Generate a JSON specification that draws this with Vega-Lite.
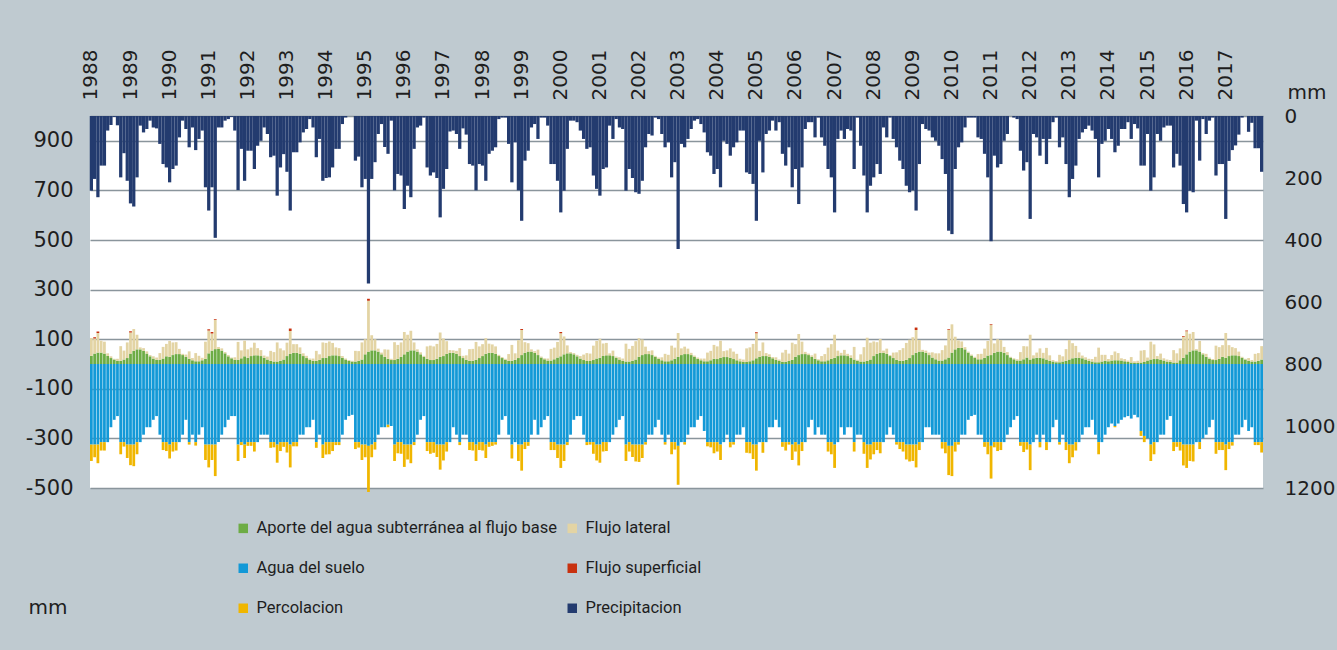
{
"$schema":"https://vega.github.io/schema/vega-lite/v6.json",
"width":1173,"height":372,
"autosize":{"type":"none"},
"padding":{"left":90,"top":116,"right":74,"bottom":162},
"background":"#bfcad0",
"config":{"view":{"fill":"white","stroke":null},"axis":{"labelFont":"DejaVu Sans","labelColor":"#1e1e1e","titleFont":"DejaVu Sans","titleColor":"#1e1e1e","titleFontWeight":"normal"}},
"data":{"values":[
{"m":"1988-01","prec":241,"a":33,"l":72,"s":0,"agua":-325,"perc":-66},
{"m":"1988-02","prec":203,"a":42,"l":61,"s":5,"agua":-325,"perc":-51},
{"m":"1988-03","prec":262,"a":46,"l":79,"s":6,"agua":-325,"perc":-75},
{"m":"1988-04","prec":160,"a":46,"l":48,"s":0,"agua":-315,"perc":-34},
{"m":"1988-05","prec":160,"a":42,"l":48,"s":0,"agua":-315,"perc":-34},
{"m":"1988-06","prec":47,"a":33,"l":10,"s":0,"agua":-315,"perc":0},
{"m":"1988-07","prec":29,"a":24,"l":7,"s":0,"agua":-255,"perc":0},
{"m":"1988-08","prec":3,"a":18,"l":3,"s":0,"agua":-225,"perc":0},
{"m":"1988-09","prec":30,"a":13,"l":8,"s":0,"agua":-210,"perc":0},
{"m":"1988-10","prec":198,"a":13,"l":59,"s":0,"agua":-315,"perc":-49},
{"m":"1988-11","prec":120,"a":18,"l":36,"s":0,"agua":-315,"perc":-18},
{"m":"1988-12","prec":209,"a":24,"l":63,"s":0,"agua":-325,"perc":-54},
{"m":"1989-01","prec":282,"a":42,"l":85,"s":5,"agua":-325,"perc":-83},
{"m":"1989-02","prec":292,"a":53,"l":88,"s":0,"agua":-325,"perc":-87},
{"m":"1989-03","prec":198,"a":59,"l":59,"s":0,"agua":-315,"perc":-49},
{"m":"1989-04","prec":31,"a":59,"l":8,"s":0,"agua":-315,"perc":0},
{"m":"1989-05","prec":53,"a":53,"l":11,"s":0,"agua":-285,"perc":0},
{"m":"1989-06","prec":42,"a":42,"l":9,"s":0,"agua":-255,"perc":0},
{"m":"1989-07","prec":15,"a":31,"l":5,"s":0,"agua":-255,"perc":0},
{"m":"1989-08","prec":37,"a":22,"l":9,"s":0,"agua":-225,"perc":0},
{"m":"1989-09","prec":40,"a":17,"l":9,"s":0,"agua":-210,"perc":0},
{"m":"1989-10","prec":90,"a":17,"l":27,"s":0,"agua":-285,"perc":0},
{"m":"1989-11","prec":155,"a":22,"l":47,"s":0,"agua":-315,"perc":-32},
{"m":"1989-12","prec":166,"a":31,"l":50,"s":0,"agua":-315,"perc":-36},
{"m":"1990-01","prec":214,"a":29,"l":64,"s":0,"agua":-325,"perc":-56},
{"m":"1990-02","prec":171,"a":36,"l":51,"s":0,"agua":-315,"perc":-38},
{"m":"1990-03","prec":160,"a":40,"l":48,"s":0,"agua":-315,"perc":-34},
{"m":"1990-04","prec":69,"a":40,"l":21,"s":0,"agua":-315,"perc":0},
{"m":"1990-05","prec":15,"a":36,"l":5,"s":0,"agua":-285,"perc":0},
{"m":"1990-06","prec":42,"a":29,"l":9,"s":0,"agua":-225,"perc":0},
{"m":"1990-07","prec":101,"a":21,"l":30,"s":0,"agua":-315,"perc":-10},
{"m":"1990-08","prec":37,"a":15,"l":9,"s":0,"agua":-285,"perc":0},
{"m":"1990-09","prec":110,"a":11,"l":33,"s":0,"agua":-315,"perc":-14},
{"m":"1990-10","prec":74,"a":11,"l":22,"s":0,"agua":-285,"perc":0},
{"m":"1990-11","prec":47,"a":15,"l":10,"s":0,"agua":-255,"perc":0},
{"m":"1990-12","prec":230,"a":21,"l":69,"s":0,"agua":-325,"perc":-62},
{"m":"1991-01","prec":305,"a":43,"l":92,"s":5,"agua":-325,"perc":-92},
{"m":"1991-02","prec":230,"a":54,"l":69,"s":6,"agua":-325,"perc":-62},
{"m":"1991-03","prec":393,"a":60,"l":118,"s":3,"agua":-325,"perc":-127},
{"m":"1991-04","prec":37,"a":60,"l":9,"s":0,"agua":-315,"perc":0},
{"m":"1991-05","prec":37,"a":54,"l":9,"s":0,"agua":-285,"perc":0},
{"m":"1991-06","prec":15,"a":43,"l":5,"s":0,"agua":-255,"perc":0},
{"m":"1991-07","prec":10,"a":31,"l":5,"s":0,"agua":-225,"perc":0},
{"m":"1991-08","prec":3,"a":23,"l":3,"s":0,"agua":-210,"perc":0},
{"m":"1991-09","prec":47,"a":17,"l":10,"s":0,"agua":-210,"perc":0},
{"m":"1991-10","prec":239,"a":17,"l":72,"s":0,"agua":-325,"perc":-66},
{"m":"1991-11","prec":106,"a":23,"l":32,"s":0,"agua":-315,"perc":-12},
{"m":"1991-12","prec":209,"a":31,"l":63,"s":0,"agua":-325,"perc":-54},
{"m":"1992-01","prec":112,"a":25,"l":34,"s":0,"agua":-315,"perc":-15},
{"m":"1992-02","prec":112,"a":32,"l":34,"s":0,"agua":-315,"perc":-15},
{"m":"1992-03","prec":171,"a":35,"l":51,"s":0,"agua":-315,"perc":-38},
{"m":"1992-04","prec":96,"a":35,"l":29,"s":0,"agua":-315,"perc":0},
{"m":"1992-05","prec":80,"a":32,"l":24,"s":0,"agua":-285,"perc":0},
{"m":"1992-06","prec":37,"a":25,"l":9,"s":0,"agua":-285,"perc":0},
{"m":"1992-07","prec":58,"a":18,"l":12,"s":0,"agua":-285,"perc":0},
{"m":"1992-08","prec":133,"a":13,"l":40,"s":0,"agua":-315,"perc":-23},
{"m":"1992-09","prec":128,"a":10,"l":38,"s":0,"agua":-315,"perc":-21},
{"m":"1992-10","prec":257,"a":10,"l":77,"s":0,"agua":-325,"perc":-73},
{"m":"1992-11","prec":166,"a":13,"l":50,"s":0,"agua":-315,"perc":-36},
{"m":"1992-12","prec":123,"a":18,"l":37,"s":0,"agua":-315,"perc":-19},
{"m":"1993-01","prec":180,"a":32,"l":54,"s":0,"agua":-315,"perc":-42},
{"m":"1993-02","prec":305,"a":41,"l":92,"s":10,"agua":-325,"perc":-92},
{"m":"1993-03","prec":117,"a":45,"l":35,"s":0,"agua":-315,"perc":-17},
{"m":"1993-04","prec":117,"a":45,"l":35,"s":0,"agua":-315,"perc":-17},
{"m":"1993-05","prec":85,"a":41,"l":26,"s":0,"agua":-285,"perc":0},
{"m":"1993-06","prec":53,"a":32,"l":11,"s":0,"agua":-285,"perc":0},
{"m":"1993-07","prec":42,"a":24,"l":9,"s":0,"agua":-255,"perc":0},
{"m":"1993-08","prec":10,"a":17,"l":5,"s":0,"agua":-255,"perc":0},
{"m":"1993-09","prec":37,"a":13,"l":9,"s":0,"agua":-225,"perc":0},
{"m":"1993-10","prec":133,"a":13,"l":40,"s":0,"agua":-315,"perc":-23},
{"m":"1993-11","prec":74,"a":17,"l":22,"s":0,"agua":-285,"perc":0},
{"m":"1993-12","prec":209,"a":24,"l":63,"s":0,"agua":-325,"perc":-54},
{"m":"1994-01","prec":200,"a":25,"l":60,"s":0,"agua":-315,"perc":-50},
{"m":"1994-02","prec":198,"a":32,"l":59,"s":0,"agua":-315,"perc":-49},
{"m":"1994-03","prec":166,"a":35,"l":50,"s":0,"agua":-315,"perc":-36},
{"m":"1994-04","prec":106,"a":35,"l":32,"s":0,"agua":-315,"perc":-12},
{"m":"1994-05","prec":106,"a":32,"l":32,"s":0,"agua":-315,"perc":-12},
{"m":"1994-06","prec":26,"a":25,"l":7,"s":0,"agua":-285,"perc":0},
{"m":"1994-07","prec":5,"a":18,"l":4,"s":0,"agua":-225,"perc":0},
{"m":"1994-08","prec":0,"a":13,"l":3,"s":0,"agua":-210,"perc":0},
{"m":"1994-09","prec":0,"a":10,"l":3,"s":0,"agua":-205,"perc":0},
{"m":"1994-10","prec":144,"a":10,"l":43,"s":0,"agua":-315,"perc":-28},
{"m":"1994-11","prec":131,"a":13,"l":39,"s":0,"agua":-315,"perc":-22},
{"m":"1994-12","prec":230,"a":18,"l":69,"s":0,"agua":-325,"perc":-62},
{"m":"1995-01","prec":203,"a":39,"l":61,"s":0,"agua":-325,"perc":-51},
{"m":"1995-02","prec":540,"a":50,"l":205,"s":8,"agua":-330,"perc":-186},
{"m":"1995-03","prec":203,"a":55,"l":61,"s":0,"agua":-325,"perc":-51},
{"m":"1995-04","prec":149,"a":55,"l":45,"s":0,"agua":-315,"perc":-30},
{"m":"1995-05","prec":58,"a":50,"l":12,"s":0,"agua":-285,"perc":0},
{"m":"1995-06","prec":26,"a":39,"l":7,"s":0,"agua":-255,"perc":0},
{"m":"1995-07","prec":100,"a":29,"l":30,"s":0,"agua":-255,"perc":0},
{"m":"1995-08","prec":122,"a":21,"l":37,"s":0,"agua":-245,"perc":-10},
{"m":"1995-09","prec":15,"a":16,"l":5,"s":0,"agua":-250,"perc":0},
{"m":"1995-10","prec":240,"a":16,"l":72,"s":0,"agua":-325,"perc":-66},
{"m":"1995-11","prec":187,"a":21,"l":56,"s":0,"agua":-315,"perc":-45},
{"m":"1995-12","prec":192,"a":29,"l":58,"s":0,"agua":-315,"perc":-47},
{"m":"1996-01","prec":300,"a":39,"l":90,"s":0,"agua":-325,"perc":-90},
{"m":"1996-02","prec":225,"a":50,"l":68,"s":0,"agua":-325,"perc":-60},
{"m":"1996-03","prec":262,"a":55,"l":79,"s":0,"agua":-325,"perc":-75},
{"m":"1996-04","prec":106,"a":55,"l":32,"s":0,"agua":-315,"perc":-12},
{"m":"1996-05","prec":37,"a":50,"l":9,"s":0,"agua":-285,"perc":0},
{"m":"1996-06","prec":31,"a":39,"l":8,"s":0,"agua":-225,"perc":0},
{"m":"1996-07","prec":5,"a":29,"l":4,"s":0,"agua":-210,"perc":0},
{"m":"1996-08","prec":166,"a":21,"l":50,"s":0,"agua":-315,"perc":-36},
{"m":"1996-09","prec":192,"a":16,"l":58,"s":0,"agua":-315,"perc":-47},
{"m":"1996-10","prec":182,"a":16,"l":55,"s":0,"agua":-315,"perc":-43},
{"m":"1996-11","prec":200,"a":21,"l":60,"s":0,"agua":-325,"perc":-50},
{"m":"1996-12","prec":327,"a":29,"l":98,"s":0,"agua":-325,"perc":-101},
{"m":"1997-01","prec":235,"a":32,"l":71,"s":0,"agua":-325,"perc":-64},
{"m":"1997-02","prec":171,"a":41,"l":51,"s":0,"agua":-315,"perc":-38},
{"m":"1997-03","prec":50,"a":45,"l":11,"s":0,"agua":-315,"perc":0},
{"m":"1997-04","prec":47,"a":45,"l":10,"s":0,"agua":-255,"perc":0},
{"m":"1997-05","prec":58,"a":41,"l":12,"s":0,"agua":-285,"perc":0},
{"m":"1997-06","prec":106,"a":32,"l":32,"s":0,"agua":-315,"perc":-12},
{"m":"1997-07","prec":40,"a":24,"l":9,"s":0,"agua":-285,"perc":0},
{"m":"1997-08","prec":60,"a":17,"l":18,"s":0,"agua":-285,"perc":0},
{"m":"1997-09","prec":155,"a":13,"l":47,"s":0,"agua":-315,"perc":-32},
{"m":"1997-10","prec":160,"a":13,"l":48,"s":0,"agua":-315,"perc":-34},
{"m":"1997-11","prec":240,"a":17,"l":72,"s":0,"agua":-325,"perc":-66},
{"m":"1997-12","prec":155,"a":24,"l":47,"s":0,"agua":-315,"perc":-32},
{"m":"1998-01","prec":160,"a":32,"l":48,"s":0,"agua":-315,"perc":-34},
{"m":"1998-02","prec":209,"a":41,"l":63,"s":0,"agua":-325,"perc":-54},
{"m":"1998-03","prec":122,"a":45,"l":37,"s":0,"agua":-315,"perc":-19},
{"m":"1998-04","prec":112,"a":45,"l":34,"s":0,"agua":-315,"perc":-15},
{"m":"1998-05","prec":101,"a":41,"l":30,"s":0,"agua":-315,"perc":-10},
{"m":"1998-06","prec":10,"a":32,"l":5,"s":0,"agua":-285,"perc":0},
{"m":"1998-07","prec":5,"a":24,"l":4,"s":0,"agua":-225,"perc":0},
{"m":"1998-08","prec":5,"a":17,"l":4,"s":0,"agua":-210,"perc":0},
{"m":"1998-09","prec":90,"a":13,"l":27,"s":0,"agua":-285,"perc":0},
{"m":"1998-10","prec":214,"a":13,"l":64,"s":0,"agua":-325,"perc":-56},
{"m":"1998-11","prec":85,"a":17,"l":26,"s":0,"agua":-315,"perc":0},
{"m":"1998-12","prec":240,"a":24,"l":72,"s":0,"agua":-325,"perc":-66},
{"m":"1999-01","prec":338,"a":36,"l":101,"s":4,"agua":-325,"perc":-105},
{"m":"1999-02","prec":144,"a":45,"l":43,"s":0,"agua":-315,"perc":-28},
{"m":"1999-03","prec":112,"a":50,"l":34,"s":0,"agua":-315,"perc":-15},
{"m":"1999-04","prec":37,"a":50,"l":9,"s":0,"agua":-285,"perc":0},
{"m":"1999-05","prec":26,"a":45,"l":7,"s":0,"agua":-225,"perc":0},
{"m":"1999-06","prec":74,"a":36,"l":22,"s":0,"agua":-285,"perc":0},
{"m":"1999-07","prec":5,"a":26,"l":4,"s":0,"agua":-255,"perc":0},
{"m":"1999-08","prec":5,"a":19,"l":4,"s":0,"agua":-225,"perc":0},
{"m":"1999-09","prec":31,"a":14,"l":8,"s":0,"agua":-210,"perc":0},
{"m":"1999-10","prec":155,"a":14,"l":47,"s":0,"agua":-315,"perc":-32},
{"m":"1999-11","prec":155,"a":19,"l":47,"s":0,"agua":-315,"perc":-32},
{"m":"1999-12","prec":209,"a":26,"l":63,"s":0,"agua":-325,"perc":-54},
{"m":"2000-01","prec":311,"a":31,"l":93,"s":5,"agua":-325,"perc":-94},
{"m":"2000-02","prec":241,"a":39,"l":72,"s":0,"agua":-325,"perc":-66},
{"m":"2000-03","prec":106,"a":43,"l":32,"s":0,"agua":-315,"perc":-12},
{"m":"2000-04","prec":15,"a":43,"l":5,"s":0,"agua":-285,"perc":0},
{"m":"2000-05","prec":15,"a":39,"l":5,"s":0,"agua":-225,"perc":0},
{"m":"2000-06","prec":20,"a":31,"l":6,"s":0,"agua":-210,"perc":0},
{"m":"2000-07","prec":47,"a":22,"l":10,"s":0,"agua":-210,"perc":0},
{"m":"2000-08","prec":74,"a":16,"l":22,"s":0,"agua":-285,"perc":0},
{"m":"2000-09","prec":106,"a":12,"l":32,"s":0,"agua":-315,"perc":-12},
{"m":"2000-10","prec":101,"a":12,"l":30,"s":0,"agua":-315,"perc":-10},
{"m":"2000-11","prec":192,"a":16,"l":58,"s":0,"agua":-315,"perc":-47},
{"m":"2000-12","prec":235,"a":22,"l":71,"s":0,"agua":-325,"perc":-64},
{"m":"2001-01","prec":257,"a":25,"l":77,"s":0,"agua":-325,"perc":-73},
{"m":"2001-02","prec":171,"a":32,"l":51,"s":0,"agua":-315,"perc":-38},
{"m":"2001-03","prec":166,"a":35,"l":50,"s":0,"agua":-315,"perc":-36},
{"m":"2001-04","prec":31,"a":35,"l":8,"s":0,"agua":-315,"perc":0},
{"m":"2001-05","prec":74,"a":32,"l":22,"s":0,"agua":-285,"perc":0},
{"m":"2001-06","prec":10,"a":25,"l":5,"s":0,"agua":-255,"perc":0},
{"m":"2001-07","prec":37,"a":18,"l":9,"s":0,"agua":-225,"perc":0},
{"m":"2001-08","prec":42,"a":13,"l":9,"s":0,"agua":-210,"perc":0},
{"m":"2001-09","prec":241,"a":10,"l":72,"s":0,"agua":-325,"perc":-66},
{"m":"2001-10","prec":171,"a":10,"l":51,"s":0,"agua":-315,"perc":-38},
{"m":"2001-11","prec":200,"a":13,"l":60,"s":0,"agua":-325,"perc":-50},
{"m":"2001-12","prec":246,"a":18,"l":74,"s":0,"agua":-325,"perc":-68},
{"m":"2002-01","prec":251,"a":29,"l":75,"s":0,"agua":-325,"perc":-70},
{"m":"2002-02","prec":209,"a":36,"l":63,"s":0,"agua":-325,"perc":-54},
{"m":"2002-03","prec":101,"a":40,"l":30,"s":0,"agua":-315,"perc":-10},
{"m":"2002-04","prec":58,"a":40,"l":12,"s":0,"agua":-285,"perc":0},
{"m":"2002-05","prec":63,"a":36,"l":19,"s":0,"agua":-285,"perc":0},
{"m":"2002-06","prec":5,"a":29,"l":4,"s":0,"agua":-255,"perc":0},
{"m":"2002-07","prec":10,"a":21,"l":5,"s":0,"agua":-225,"perc":0},
{"m":"2002-08","prec":58,"a":15,"l":12,"s":0,"agua":-285,"perc":0},
{"m":"2002-09","prec":101,"a":11,"l":30,"s":0,"agua":-315,"perc":-10},
{"m":"2002-10","prec":85,"a":11,"l":26,"s":0,"agua":-285,"perc":0},
{"m":"2002-11","prec":198,"a":15,"l":59,"s":0,"agua":-315,"perc":-49},
{"m":"2002-12","prec":149,"a":21,"l":45,"s":0,"agua":-315,"perc":-30},
{"m":"2003-01","prec":429,"a":29,"l":96,"s":0,"agua":-330,"perc":-157},
{"m":"2003-02","prec":90,"a":36,"l":27,"s":0,"agua":-315,"perc":0},
{"m":"2003-03","prec":101,"a":40,"l":30,"s":0,"agua":-315,"perc":-10},
{"m":"2003-04","prec":74,"a":40,"l":22,"s":0,"agua":-285,"perc":0},
{"m":"2003-05","prec":42,"a":36,"l":9,"s":0,"agua":-255,"perc":0},
{"m":"2003-06","prec":15,"a":29,"l":5,"s":0,"agua":-255,"perc":0},
{"m":"2003-07","prec":10,"a":21,"l":5,"s":0,"agua":-225,"perc":0},
{"m":"2003-08","prec":26,"a":15,"l":7,"s":0,"agua":-210,"perc":0},
{"m":"2003-09","prec":53,"a":11,"l":11,"s":0,"agua":-270,"perc":0},
{"m":"2003-10","prec":117,"a":11,"l":35,"s":0,"agua":-315,"perc":-17},
{"m":"2003-11","prec":128,"a":15,"l":38,"s":0,"agua":-315,"perc":-21},
{"m":"2003-12","prec":187,"a":21,"l":56,"s":0,"agua":-315,"perc":-45},
{"m":"2004-01","prec":171,"a":20,"l":51,"s":0,"agua":-315,"perc":-38},
{"m":"2004-02","prec":230,"a":25,"l":69,"s":0,"agua":-325,"perc":-62},
{"m":"2004-03","prec":80,"a":28,"l":24,"s":0,"agua":-315,"perc":0},
{"m":"2004-04","prec":90,"a":28,"l":27,"s":0,"agua":-285,"perc":0},
{"m":"2004-05","prec":128,"a":25,"l":38,"s":0,"agua":-315,"perc":-21},
{"m":"2004-06","prec":101,"a":20,"l":30,"s":0,"agua":-315,"perc":-10},
{"m":"2004-07","prec":85,"a":15,"l":26,"s":0,"agua":-285,"perc":0},
{"m":"2004-08","prec":47,"a":11,"l":10,"s":0,"agua":-285,"perc":0},
{"m":"2004-09","prec":47,"a":8,"l":10,"s":0,"agua":-255,"perc":0},
{"m":"2004-10","prec":182,"a":8,"l":55,"s":0,"agua":-315,"perc":-43},
{"m":"2004-11","prec":187,"a":11,"l":56,"s":0,"agua":-315,"perc":-45},
{"m":"2004-12","prec":219,"a":15,"l":66,"s":0,"agua":-325,"perc":-58},
{"m":"2005-01","prec":338,"a":23,"l":101,"s":4,"agua":-325,"perc":-105},
{"m":"2005-02","prec":80,"a":29,"l":24,"s":0,"agua":-315,"perc":0},
{"m":"2005-03","prec":182,"a":32,"l":55,"s":0,"agua":-315,"perc":-43},
{"m":"2005-04","prec":58,"a":32,"l":12,"s":0,"agua":-315,"perc":0},
{"m":"2005-05","prec":47,"a":29,"l":10,"s":0,"agua":-255,"perc":0},
{"m":"2005-06","prec":15,"a":23,"l":5,"s":0,"agua":-255,"perc":0},
{"m":"2005-07","prec":47,"a":17,"l":10,"s":0,"agua":-225,"perc":0},
{"m":"2005-08","prec":20,"a":12,"l":6,"s":0,"agua":-255,"perc":0},
{"m":"2005-09","prec":122,"a":9,"l":37,"s":0,"agua":-315,"perc":-19},
{"m":"2005-10","prec":160,"a":9,"l":48,"s":0,"agua":-315,"perc":-34},
{"m":"2005-11","prec":101,"a":12,"l":30,"s":0,"agua":-315,"perc":-10},
{"m":"2005-12","prec":230,"a":17,"l":69,"s":0,"agua":-325,"perc":-62},
{"m":"2006-01","prec":171,"a":29,"l":51,"s":0,"agua":-315,"perc":-38},
{"m":"2006-02","prec":284,"a":36,"l":85,"s":0,"agua":-325,"perc":-84},
{"m":"2006-03","prec":166,"a":40,"l":50,"s":0,"agua":-315,"perc":-36},
{"m":"2006-04","prec":42,"a":40,"l":9,"s":0,"agua":-315,"perc":0},
{"m":"2006-05","prec":20,"a":36,"l":6,"s":0,"agua":-255,"perc":0},
{"m":"2006-06","prec":20,"a":29,"l":6,"s":0,"agua":-225,"perc":0},
{"m":"2006-07","prec":69,"a":21,"l":21,"s":0,"agua":-285,"perc":0},
{"m":"2006-08","prec":5,"a":15,"l":4,"s":0,"agua":-255,"perc":0},
{"m":"2006-09","prec":69,"a":11,"l":21,"s":0,"agua":-285,"perc":0},
{"m":"2006-10","prec":96,"a":11,"l":29,"s":0,"agua":-285,"perc":0},
{"m":"2006-11","prec":171,"a":15,"l":51,"s":0,"agua":-315,"perc":-38},
{"m":"2006-12","prec":198,"a":21,"l":59,"s":0,"agua":-315,"perc":-49},
{"m":"2007-01","prec":311,"a":25,"l":93,"s":0,"agua":-325,"perc":-94},
{"m":"2007-02","prec":74,"a":32,"l":22,"s":0,"agua":-315,"perc":0},
{"m":"2007-03","prec":47,"a":35,"l":10,"s":0,"agua":-255,"perc":0},
{"m":"2007-04","prec":74,"a":35,"l":22,"s":0,"agua":-285,"perc":0},
{"m":"2007-05","prec":42,"a":32,"l":9,"s":0,"agua":-255,"perc":0},
{"m":"2007-06","prec":47,"a":25,"l":10,"s":0,"agua":-255,"perc":0},
{"m":"2007-07","prec":171,"a":18,"l":51,"s":0,"agua":-315,"perc":-38},
{"m":"2007-08","prec":5,"a":13,"l":4,"s":0,"agua":-285,"perc":0},
{"m":"2007-09","prec":96,"a":10,"l":29,"s":0,"agua":-285,"perc":0},
{"m":"2007-10","prec":192,"a":10,"l":58,"s":0,"agua":-315,"perc":-47},
{"m":"2007-11","prec":311,"a":13,"l":93,"s":0,"agua":-325,"perc":-94},
{"m":"2007-12","prec":225,"a":18,"l":68,"s":0,"agua":-325,"perc":-60},
{"m":"2008-01","prec":198,"a":32,"l":59,"s":0,"agua":-315,"perc":-49},
{"m":"2008-02","prec":155,"a":41,"l":47,"s":0,"agua":-315,"perc":-32},
{"m":"2008-03","prec":187,"a":45,"l":56,"s":0,"agua":-315,"perc":-45},
{"m":"2008-04","prec":37,"a":45,"l":9,"s":0,"agua":-315,"perc":0},
{"m":"2008-05","prec":69,"a":41,"l":21,"s":0,"agua":-285,"perc":0},
{"m":"2008-06","prec":5,"a":32,"l":4,"s":0,"agua":-255,"perc":0},
{"m":"2008-07","prec":74,"a":24,"l":22,"s":0,"agua":-285,"perc":0},
{"m":"2008-08","prec":101,"a":17,"l":30,"s":0,"agua":-315,"perc":-10},
{"m":"2008-09","prec":144,"a":13,"l":43,"s":0,"agua":-315,"perc":-28},
{"m":"2008-10","prec":171,"a":13,"l":51,"s":0,"agua":-315,"perc":-38},
{"m":"2008-11","prec":225,"a":17,"l":68,"s":0,"agua":-325,"perc":-60},
{"m":"2008-12","prec":246,"a":24,"l":74,"s":0,"agua":-325,"perc":-68},
{"m":"2009-01","prec":240,"a":36,"l":72,"s":0,"agua":-325,"perc":-66},
{"m":"2009-02","prec":305,"a":45,"l":92,"s":10,"agua":-325,"perc":-92},
{"m":"2009-03","prec":155,"a":50,"l":47,"s":0,"agua":-315,"perc":-32},
{"m":"2009-04","prec":26,"a":50,"l":7,"s":0,"agua":-315,"perc":0},
{"m":"2009-05","prec":42,"a":45,"l":9,"s":0,"agua":-255,"perc":0},
{"m":"2009-06","prec":47,"a":36,"l":10,"s":0,"agua":-255,"perc":0},
{"m":"2009-07","prec":69,"a":26,"l":21,"s":0,"agua":-285,"perc":0},
{"m":"2009-08","prec":80,"a":19,"l":24,"s":0,"agua":-285,"perc":0},
{"m":"2009-09","prec":96,"a":14,"l":29,"s":0,"agua":-285,"perc":0},
{"m":"2009-10","prec":139,"a":14,"l":42,"s":0,"agua":-315,"perc":-26},
{"m":"2009-11","prec":187,"a":19,"l":56,"s":0,"agua":-315,"perc":-45},
{"m":"2009-12","prec":370,"a":26,"l":111,"s":3,"agua":-330,"perc":-118},
{"m":"2010-01","prec":381,"a":46,"l":114,"s":0,"agua":-330,"perc":-122},
{"m":"2010-02","prec":171,"a":59,"l":51,"s":0,"agua":-315,"perc":-38},
{"m":"2010-03","prec":101,"a":65,"l":30,"s":0,"agua":-315,"perc":-10},
{"m":"2010-04","prec":85,"a":65,"l":26,"s":0,"agua":-285,"perc":0},
{"m":"2010-05","prec":37,"a":59,"l":9,"s":0,"agua":-285,"perc":0},
{"m":"2010-06","prec":5,"a":46,"l":4,"s":0,"agua":-225,"perc":0},
{"m":"2010-07","prec":5,"a":34,"l":4,"s":0,"agua":-210,"perc":0},
{"m":"2010-08","prec":5,"a":25,"l":4,"s":0,"agua":-205,"perc":0},
{"m":"2010-09","prec":69,"a":19,"l":21,"s":0,"agua":-285,"perc":0},
{"m":"2010-10","prec":74,"a":19,"l":22,"s":0,"agua":-285,"perc":0},
{"m":"2010-11","prec":122,"a":25,"l":37,"s":0,"agua":-315,"perc":-19},
{"m":"2010-12","prec":198,"a":34,"l":59,"s":0,"agua":-315,"perc":-49},
{"m":"2011-01","prec":404,"a":36,"l":121,"s":3,"agua":-330,"perc":-132},
{"m":"2011-02","prec":128,"a":45,"l":38,"s":0,"agua":-315,"perc":-21},
{"m":"2011-03","prec":166,"a":50,"l":50,"s":0,"agua":-315,"perc":-36},
{"m":"2011-04","prec":155,"a":50,"l":47,"s":0,"agua":-315,"perc":-32},
{"m":"2011-05","prec":80,"a":45,"l":24,"s":0,"agua":-315,"perc":0},
{"m":"2011-06","prec":58,"a":36,"l":12,"s":0,"agua":-285,"perc":0},
{"m":"2011-07","prec":0,"a":26,"l":3,"s":0,"agua":-255,"perc":0},
{"m":"2011-08","prec":5,"a":19,"l":4,"s":0,"agua":-225,"perc":0},
{"m":"2011-09","prec":10,"a":14,"l":5,"s":0,"agua":-210,"perc":0},
{"m":"2011-10","prec":112,"a":14,"l":34,"s":0,"agua":-315,"perc":-15},
{"m":"2011-11","prec":176,"a":19,"l":53,"s":0,"agua":-315,"perc":-40},
{"m":"2011-12","prec":149,"a":26,"l":45,"s":0,"agua":-315,"perc":-30},
{"m":"2012-01","prec":332,"a":18,"l":100,"s":0,"agua":-325,"perc":-103},
{"m":"2012-02","prec":58,"a":23,"l":12,"s":0,"agua":-315,"perc":0},
{"m":"2012-03","prec":69,"a":25,"l":21,"s":0,"agua":-285,"perc":0},
{"m":"2012-04","prec":128,"a":25,"l":38,"s":0,"agua":-315,"perc":-21},
{"m":"2012-05","prec":74,"a":23,"l":22,"s":0,"agua":-285,"perc":0},
{"m":"2012-06","prec":155,"a":18,"l":47,"s":0,"agua":-315,"perc":-32},
{"m":"2012-07","prec":74,"a":13,"l":22,"s":0,"agua":-315,"perc":0},
{"m":"2012-08","prec":20,"a":10,"l":6,"s":0,"agua":-255,"perc":0},
{"m":"2012-09","prec":5,"a":7,"l":4,"s":0,"agua":-225,"perc":0},
{"m":"2012-10","prec":101,"a":7,"l":30,"s":0,"agua":-315,"perc":-10},
{"m":"2012-11","prec":69,"a":10,"l":21,"s":0,"agua":-285,"perc":0},
{"m":"2012-12","prec":155,"a":13,"l":47,"s":0,"agua":-315,"perc":-32},
{"m":"2013-01","prec":262,"a":18,"l":79,"s":0,"agua":-325,"perc":-75},
{"m":"2013-02","prec":203,"a":23,"l":61,"s":0,"agua":-325,"perc":-51},
{"m":"2013-03","prec":160,"a":25,"l":48,"s":0,"agua":-315,"perc":-34},
{"m":"2013-04","prec":74,"a":25,"l":22,"s":0,"agua":-315,"perc":0},
{"m":"2013-05","prec":53,"a":23,"l":11,"s":0,"agua":-285,"perc":0},
{"m":"2013-06","prec":42,"a":18,"l":9,"s":0,"agua":-255,"perc":0},
{"m":"2013-07","prec":31,"a":13,"l":8,"s":0,"agua":-255,"perc":0},
{"m":"2013-08","prec":47,"a":10,"l":10,"s":0,"agua":-225,"perc":0},
{"m":"2013-09","prec":74,"a":7,"l":22,"s":0,"agua":-285,"perc":0},
{"m":"2013-10","prec":198,"a":7,"l":59,"s":0,"agua":-315,"perc":-49},
{"m":"2013-11","prec":90,"a":10,"l":27,"s":0,"agua":-315,"perc":0},
{"m":"2013-12","prec":80,"a":13,"l":24,"s":0,"agua":-285,"perc":0},
{"m":"2014-01","prec":42,"a":11,"l":9,"s":0,"agua":-255,"perc":0},
{"m":"2014-02","prec":74,"a":14,"l":22,"s":0,"agua":-240,"perc":0},
{"m":"2014-03","prec":117,"a":15,"l":35,"s":0,"agua":-250,"perc":-5},
{"m":"2014-04","prec":96,"a":15,"l":29,"s":0,"agua":-240,"perc":0},
{"m":"2014-05","prec":42,"a":14,"l":9,"s":0,"agua":-225,"perc":0},
{"m":"2014-06","prec":42,"a":11,"l":9,"s":0,"agua":-215,"perc":0},
{"m":"2014-07","prec":20,"a":8,"l":6,"s":0,"agua":-210,"perc":0},
{"m":"2014-08","prec":74,"a":6,"l":22,"s":0,"agua":-220,"perc":0},
{"m":"2014-09","prec":26,"a":4,"l":7,"s":0,"agua":-205,"perc":0},
{"m":"2014-10","prec":40,"a":4,"l":9,"s":0,"agua":-215,"perc":0},
{"m":"2014-11","prec":160,"a":6,"l":48,"s":0,"agua":-270,"perc":-20},
{"m":"2014-12","prec":160,"a":8,"l":48,"s":0,"agua":-290,"perc":-25},
{"m":"2015-01","prec":58,"a":14,"l":12,"s":0,"agua":-300,"perc":0},
{"m":"2015-02","prec":241,"a":18,"l":72,"s":0,"agua":-325,"perc":-66},
{"m":"2015-03","prec":198,"a":20,"l":59,"s":0,"agua":-315,"perc":-49},
{"m":"2015-04","prec":58,"a":20,"l":12,"s":0,"agua":-315,"perc":0},
{"m":"2015-05","prec":80,"a":18,"l":24,"s":0,"agua":-285,"perc":0},
{"m":"2015-06","prec":37,"a":14,"l":9,"s":0,"agua":-285,"perc":0},
{"m":"2015-07","prec":31,"a":10,"l":8,"s":0,"agua":-225,"perc":0},
{"m":"2015-08","prec":31,"a":8,"l":8,"s":0,"agua":-210,"perc":0},
{"m":"2015-09","prec":166,"a":6,"l":50,"s":0,"agua":-315,"perc":-36},
{"m":"2015-10","prec":122,"a":6,"l":37,"s":0,"agua":-315,"perc":-19},
{"m":"2015-11","prec":160,"a":15,"l":48,"s":0,"agua":-315,"perc":-34},
{"m":"2015-12","prec":284,"a":25,"l":85,"s":3,"agua":-325,"perc":-84},
{"m":"2016-01","prec":311,"a":39,"l":93,"s":3,"agua":-325,"perc":-94},
{"m":"2016-02","prec":241,"a":50,"l":72,"s":0,"agua":-325,"perc":-66},
{"m":"2016-03","prec":246,"a":55,"l":74,"s":0,"agua":-325,"perc":-68},
{"m":"2016-04","prec":15,"a":55,"l":5,"s":0,"agua":-315,"perc":0},
{"m":"2016-05","prec":144,"a":50,"l":43,"s":0,"agua":-315,"perc":-28},
{"m":"2016-06","prec":10,"a":39,"l":5,"s":0,"agua":-300,"perc":0},
{"m":"2016-07","prec":58,"a":29,"l":12,"s":0,"agua":-285,"perc":0},
{"m":"2016-08","prec":15,"a":21,"l":5,"s":0,"agua":-255,"perc":0},
{"m":"2016-09","prec":5,"a":16,"l":4,"s":0,"agua":-225,"perc":0},
{"m":"2016-10","prec":192,"a":16,"l":58,"s":0,"agua":-315,"perc":-47},
{"m":"2016-11","prec":155,"a":21,"l":47,"s":0,"agua":-315,"perc":-32},
{"m":"2016-12","prec":155,"a":29,"l":47,"s":0,"agua":-315,"perc":-32},
{"m":"2017-01","prec":332,"a":25,"l":100,"s":0,"agua":-325,"perc":-103},
{"m":"2017-02","prec":145,"a":32,"l":44,"s":0,"agua":-315,"perc":-28},
{"m":"2017-03","prec":110,"a":35,"l":33,"s":0,"agua":-315,"perc":-14},
{"m":"2017-04","prec":95,"a":35,"l":29,"s":0,"agua":-285,"perc":0},
{"m":"2017-05","prec":60,"a":32,"l":18,"s":0,"agua":-285,"perc":0},
{"m":"2017-06","prec":5,"a":25,"l":4,"s":0,"agua":-255,"perc":0},
{"m":"2017-07","prec":0,"a":18,"l":3,"s":0,"agua":-225,"perc":0},
{"m":"2017-08","prec":51,"a":13,"l":11,"s":0,"agua":-270,"perc":0},
{"m":"2017-09","prec":22,"a":10,"l":6,"s":0,"agua":-255,"perc":0},
{"m":"2017-10","prec":104,"a":10,"l":31,"s":0,"agua":-315,"perc":-12},
{"m":"2017-11","prec":104,"a":13,"l":31,"s":0,"agua":-315,"perc":-12},
{"m":"2017-12","prec":180,"a":18,"l":54,"s":0,"agua":-315,"perc":-42}
]},
"encoding":{
 "x":{"field":"m","type":"ordinal","scale":{"paddingInner":0.15,"paddingOuter":0},
  "axis":{"orient":"top","title":null,"domain":false,"ticks":false,"grid":false,"labelAngle":-90,"labelAlign":"left","labelBaseline":"middle","labelPadding":16,"labelFontSize":20,"labelOverlap":false,
   "values":["1988-01","1989-01","1990-01","1991-01","1992-01","1993-01","1994-01","1995-01","1996-01","1997-01","1998-01","1999-01","2000-01","2001-01","2002-01","2003-01","2004-01","2005-01","2006-01","2007-01","2008-01","2009-01","2010-01","2011-01","2012-01","2013-01","2014-01","2015-01","2016-01","2017-01"],
   "labelExpr":"substring(datum.value, 0, 4)"}},
 "color":{"field":"k","type":"nominal",
  "scale":{"domain":["a","l","agua","s","perc","prec"],"range":["#6dac45","#e3d4a4","#1399d7","#c8310f","#f0b600","#233b6f"]},
  "legend":{"title":null,"orient":"none","legendX":145,"legendY":404,"columns":2,"direction":"horizontal","symbolType":"square","symbolSize":90,"symbolStrokeWidth":0,"labelFont":"Roboto","labelFontSize":16.5,"labelColor":"#1e1e1e","labelLimit":600,"labelOffset":5,"rowPadding":23,"columnPadding":6,
   "labelExpr":"datum.value == 'a' ? 'Aporte del agua subterránea al flujo base' : datum.value == 'l' ? 'Flujo lateral' : datum.value == 'agua' ? 'Agua del suelo' : datum.value == 's' ? 'Flujo superficial' : datum.value == 'perc' ? 'Percolacion' : 'Precipitacion'"}}
},
"layer":[
 {"transform":[{"fold":["a","l","s","agua","perc"],"as":["k","v"]}],
  "mark":{"type":"bar"},
  "encoding":{
   "y":{"field":"v","type":"quantitative","stack":"zero","scale":{"domain":[-500,1000],"nice":false,"zero":false},
    "axis":{"orient":"left","values":[-500,-300,-100,100,300,500,700,900,1000],"labelExpr":"datum.value == 1000 ? '' : '' + datum.value","domain":false,"ticks":false,"grid":true,"gridColor":"#8a959c","gridWidth":1.6,"labelFontSize":21,"labelPadding":17,"labelFlush":false,
     "title":"mm","titleAngle":0,"titleX":-62,"titleY":491,"titleAlign":"left","titleBaseline":"middle","titleFontSize":20}},
   "order":{"field":"k","sort":"ascending"}
  }},
 {"transform":[{"fold":["prec"],"as":["k","v"]}],
  "mark":{"type":"bar","width":{"band":1.18}},
  "encoding":{
   "y":{"field":"v","type":"quantitative","scale":{"domain":[0,1200],"reverse":true,"nice":false},
    "axis":{"orient":"right","values":[0,200,400,600,800,1000,1200],"labelExpr":"'' + datum.value","domain":false,"ticks":false,"grid":false,"labelFontSize":20,"labelPadding":21,"labelAlign":"left","labelFlush":false,
     "title":"mm","titleAngle":0,"titleX":24,"titleY":-24,"titleAlign":"left","titleBaseline":"middle","titleFontSize":20}}
  }}
],
"resolve":{"scale":{"y":"independent"},"axis":{"y":"independent"}}
}
